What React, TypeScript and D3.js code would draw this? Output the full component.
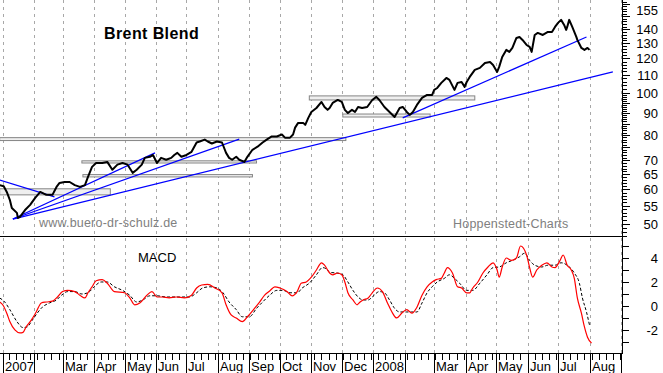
import React, { useEffect, useRef } from "react";
import * as d3 from "d3";

const W = 663;
const H = 373;

// Brent closes
const priceDates = [
  "2006-12-29", "2007-01-02", "2007-01-05", "2007-01-08", "2007-01-10", "2007-01-15", "2007-01-16", "2007-01-18",
  "2007-01-23", "2007-01-28", "2007-02-02", "2007-02-07", "2007-02-13", "2007-02-19", "2007-02-23", "2007-02-26",
  "2007-03-03", "2007-03-08", "2007-03-13", "2007-03-18", "2007-03-23", "2007-03-26", "2007-03-30", "2007-04-03",
  "2007-04-09", "2007-04-14", "2007-04-19", "2007-04-24", "2007-04-29", "2007-05-04", "2007-05-09", "2007-05-13",
  "2007-05-18", "2007-05-21", "2007-05-26", "2007-05-29", "2007-06-02", "2007-06-06", "2007-06-11", "2007-06-16",
  "2007-06-19", "2007-06-22", "2007-06-26", "2007-07-01", "2007-07-06", "2007-07-11", "2007-07-14", "2007-07-19",
  "2007-07-22", "2007-07-26", "2007-07-31", "2007-08-05", "2007-08-09", "2007-08-12", "2007-08-15", "2007-08-19",
  "2007-08-22", "2007-08-27", "2007-08-30", "2007-09-04", "2007-09-09", "2007-09-14", "2007-09-18", "2007-09-23",
  "2007-09-28", "2007-10-03", "2007-10-06", "2007-10-11", "2007-10-14", "2007-10-16", "2007-10-19", "2007-10-24",
  "2007-10-26", "2007-10-29", "2007-11-01", "2007-11-06", "2007-11-11", "2007-11-14", "2007-11-17", "2007-11-19",
  "2007-11-22", "2007-11-27", "2007-12-01", "2007-12-04", "2007-12-07", "2007-12-11", "2007-12-14", "2007-12-17",
  "2007-12-21", "2007-12-26", "2007-12-31", "2008-01-04", "2008-01-07", "2008-01-12", "2008-01-17", "2008-01-22",
  "2008-01-27", "2008-01-30", "2008-02-03", "2008-02-06", "2008-02-09", "2008-02-13", "2008-02-18", "2008-02-23",
  "2008-02-28", "2008-03-01", "2008-03-04", "2008-03-08", "2008-03-13", "2008-03-16", "2008-03-21", "2008-03-24",
  "2008-03-28", "2008-03-31", "2008-04-02", "2008-04-05", "2008-04-10", "2008-04-15", "2008-04-20", "2008-04-25",
  "2008-04-28", "2008-05-02", "2008-05-04", "2008-05-07", "2008-05-11", "2008-05-14", "2008-05-17", "2008-05-21",
  "2008-05-24", "2008-05-27", "2008-05-31", "2008-06-03", "2008-06-05", "2008-06-08", "2008-06-11", "2008-06-16",
  "2008-06-21", "2008-06-25", "2008-06-28", "2008-07-01", "2008-07-04", "2008-07-07", "2008-07-09", "2008-07-10",
  "2008-07-12", "2008-07-15", "2008-07-19", "2008-07-20", "2008-07-24", "2008-07-27", "2008-07-30", "2008-08-01",
];
const priceValues = [
  61.4, 61.0, 59.2, 56.8, 54.4, 53.0, 51.6, 51.9,
  53.8, 55.3, 57.4, 59.2, 58.3, 58.3, 60.8, 62.1,
  62.4, 62.4, 61.4, 60.8, 61.4, 64.1, 67.6, 69.0,
  69.0, 69.4, 66.6, 68.4, 69.0, 68.4, 65.5, 66.6,
  68.4, 70.9, 71.3, 72.0, 69.0, 70.9, 70.2, 70.9,
  72.0, 72.8, 71.3, 72.0, 73.2, 76.9, 77.3, 78.1,
  77.3, 76.5, 77.3, 76.9, 72.8, 70.9, 70.2, 71.3,
  70.2, 69.4, 71.3, 74.0, 75.2, 76.9, 78.1, 79.4,
  79.4, 80.2, 78.9, 78.9, 80.2, 83.2, 85.3, 85.3,
  84.4, 87.6, 90.4, 92.3, 95.3, 92.8, 91.4, 92.3,
  94.8, 96.3, 95.3, 91.4, 89.9, 91.4, 90.4, 92.8,
  92.3, 92.8, 96.3, 97.9, 96.3, 92.8, 90.4, 88.0,
  92.3, 92.8, 90.4, 89.0, 90.4, 93.8, 97.4, 98.9,
  98.9, 101.6, 102.6, 105.4, 108.2, 107.1, 101.6, 105.4,
  105.9, 103.2, 105.9, 108.8, 112.9, 114.1, 117.1, 117.7,
  115.9, 111.7, 114.7, 120.9, 125.5, 124.2, 126.8, 133.7,
  134.4, 132.3, 128.8, 127.5, 124.2, 135.8, 137.3, 135.8,
  138.0, 138.0, 141.7, 144.8, 147.1, 143.2, 139.5, 141.7,
  147.1, 141.7, 134.4, 132.3, 126.8, 125.5, 126.8, 125.5,
];

// MACD line (red)
const macdDates = [
  "2006-12-29", "2007-01-01", "2007-01-05", "2007-01-08", "2007-01-13", "2007-01-18", "2007-01-21", "2007-01-24",
  "2007-01-29", "2007-02-03", "2007-02-08", "2007-02-13", "2007-02-19", "2007-02-24", "2007-03-01", "2007-03-06",
  "2007-03-13", "2007-03-18", "2007-03-23", "2007-03-26", "2007-03-30", "2007-04-03", "2007-04-09", "2007-04-14",
  "2007-04-21", "2007-05-01", "2007-05-06", "2007-05-11", "2007-05-16", "2007-05-23", "2007-05-28", "2007-06-02",
  "2007-06-07", "2007-06-14", "2007-06-21", "2007-06-29", "2007-07-06", "2007-07-11", "2007-07-16", "2007-07-22",
  "2007-07-29", "2007-08-05", "2007-08-09", "2007-08-14", "2007-08-19", "2007-08-25", "2007-08-30", "2007-09-06",
  "2007-09-11", "2007-09-16", "2007-09-21", "2007-09-26", "2007-10-01", "2007-10-08", "2007-10-13", "2007-10-18",
  "2007-10-22", "2007-10-27", "2007-11-01", "2007-11-06", "2007-11-11", "2007-11-14", "2007-11-19", "2007-11-22",
  "2007-11-27", "2007-12-01", "2007-12-04", "2007-12-07", "2007-12-12", "2007-12-16", "2007-12-19", "2007-12-22",
  "2007-12-27", "2007-12-31", "2008-01-05", "2008-01-10", "2008-01-15", "2008-01-20", "2008-01-24", "2008-01-29",
  "2008-02-03", "2008-02-08", "2008-02-13", "2008-02-18", "2008-02-23", "2008-02-28", "2008-03-03", "2008-03-08",
  "2008-03-11", "2008-03-14", "2008-03-19", "2008-03-24", "2008-03-28", "2008-04-02", "2008-04-05", "2008-04-08",
  "2008-04-13", "2008-04-18", "2008-04-23", "2008-04-28", "2008-05-02", "2008-05-04", "2008-05-07", "2008-05-11",
  "2008-05-16", "2008-05-21", "2008-05-25", "2008-05-31", "2008-06-03", "2008-06-06", "2008-06-10", "2008-06-15",
  "2008-06-20", "2008-06-25", "2008-06-28", "2008-07-03", "2008-07-06", "2008-07-10", "2008-07-14", "2008-07-17",
  "2008-07-20", "2008-07-24", "2008-07-27", "2008-07-30", "2008-08-03",
];
const macdValues = [
  0.33, 0.1, -0.6, -1.3, -2.0, -2.25, -2.2, -1.75,
  -1.2, -0.5, 0.25, 0.33, 0.4, 0.75, 1.2, 1.3,
  1.2, 0.9, 0.67, 1.1, 1.6, 2.1, 2.2, 1.9,
  1.2, 1.1, 0.7, 0.1, 0.25, 0.9, 1.2, 0.75,
  0.75, 0.67, 0.75, 0.67, 0.9, 1.5, 1.75, 1.8,
  1.5, 1.1, 0.1, -0.75, -1.0, -1.3, -0.9, -0.2,
  0.33, 0.9, 1.25, 1.6, 1.5, 1.2, 0.85, 1.2,
  1.9, 2.0, 2.4, 3.0, 3.6, 3.4, 2.75, 2.6,
  2.75, 2.6, 2.0, 1.1, 0.5, 0.1, 0.33, 0.5,
  0.67, 1.1, 1.5, 1.2, 0.25, -0.6, -1.0, -0.6,
  -0.3, -0.6, -0.1, 0.9, 1.6, 2.0, 2.2, 2.3,
  2.75, 3.2, 2.75, 1.6, 1.5, 1.1, 1.1, 1.5,
  2.0, 2.75, 3.25, 3.6, 3.0, 2.4, 3.25, 4.0,
  3.8, 4.0, 5.0, 4.25, 3.2, 2.4, 3.0, 3.4,
  3.6, 3.25, 3.2, 3.8, 4.25, 3.4, 3.0, 2.3,
  0.67, -0.6, -1.75, -2.6, -3.1,
];

// signal line (black dashed)
const signalDates = [
  "2006-12-29", "2007-01-03", "2007-01-08", "2007-01-15", "2007-01-21", "2007-01-25", "2007-01-30", "2007-02-04",
  "2007-02-09", "2007-02-16", "2007-02-23", "2007-02-28", "2007-03-06", "2007-03-13", "2007-03-20", "2007-03-26",
  "2007-04-01", "2007-04-08", "2007-04-14", "2007-04-21", "2007-04-29", "2007-05-06", "2007-05-13", "2007-05-19",
  "2007-05-26", "2007-06-02", "2007-06-11", "2007-06-24", "2007-07-04", "2007-07-11", "2007-07-17", "2007-07-24",
  "2007-07-31", "2007-08-06", "2007-08-12", "2007-08-19", "2007-08-25", "2007-09-01", "2007-09-08", "2007-09-14",
  "2007-09-21", "2007-09-28", "2007-10-04", "2007-10-11", "2007-10-18", "2007-10-23", "2007-10-30", "2007-11-06",
  "2007-11-12", "2007-11-17", "2007-11-19", "2007-11-26", "2007-12-02", "2007-12-07", "2007-12-12", "2007-12-17",
  "2007-12-22", "2007-12-27", "2007-12-31", "2008-01-07", "2008-01-12", "2008-01-17", "2008-01-22", "2008-01-27",
  "2008-02-03", "2008-02-08", "2008-02-13", "2008-02-18", "2008-02-23", "2008-02-28", "2008-03-04", "2008-03-11",
  "2008-03-16", "2008-03-21", "2008-03-26", "2008-04-02", "2008-04-08", "2008-04-15", "2008-04-22", "2008-04-28",
  "2008-05-04", "2008-05-11", "2008-05-17", "2008-05-24", "2008-05-29", "2008-06-03", "2008-06-08", "2008-06-15",
  "2008-06-21", "2008-06-28", "2008-07-04", "2008-07-10", "2008-07-17", "2008-07-22", "2008-07-25", "2008-07-29",
  "2008-08-01",
];
const signalValues = [
  0.67, 0.33, -0.3, -1.3, -1.8, -1.75, -1.2, -0.6,
  -0.1, 0.25, 0.5, 0.9, 1.2, 1.2, 1.0, 1.1,
  1.6, 2.0, 2.0, 1.6, 1.3, 0.9, 0.33, 0.5,
  0.85, 0.85, 0.75, 0.75, 0.75, 1.1, 1.5, 1.6,
  1.5, 1.1, 0.33, -0.3, -0.9, -0.9, -0.2, 0.33,
  0.9, 1.3, 1.3, 1.1, 1.1, 1.5, 1.9, 2.6,
  3.2, 3.0, 2.8, 2.75, 2.6, 2.0, 1.3, 0.75,
  0.5, 0.5, 0.75, 1.2, 1.1, 0.5, -0.2, -0.5,
  -0.5, -0.5, -0.5, 0.25, 1.1, 1.6, 2.0, 2.3,
  2.6, 2.3, 1.9, 1.3, 1.3, 1.9, 2.6, 3.2,
  3.25, 3.6, 3.8, 4.1, 4.4, 3.8, 3.4, 3.25,
  3.4, 3.4, 3.6, 3.4, 2.75, 1.9, 0.67, -0.5,
  -1.6,
];

// trend lines: [from date, from value, to date, to value]
const trendLines: [string, number, string, number][] = [
  ["2007-01-11", 51.3, "2008-08-24", 111.7],
  ["2007-01-11", 51.3, "2007-08-22", 78.3],
  ["2007-01-11", 51.3, "2007-05-31", 72.8],
  ["2006-12-29", 63.1, "2007-02-21", 57.7],
  ["2008-01-30", 87.6, "2008-07-29", 134.4],
];

// support / resistance boxes: [from, to, low, high]
const zones: [string, string, number, number][] = [
  ["2006-12-29", "2007-12-05", 77.7, 78.9],
  ["2007-03-20", "2007-09-08", 69.0, 69.8],
  ["2007-03-21", "2007-09-04", 64.1, 64.9],
  ["2006-12-29", "2007-04-17", 58.3, 60.2],
  ["2007-10-30", "2008-04-10", 96.3, 98.4],
  ["2007-12-02", "2008-02-26", 88.0, 89.4],
];

const priceLabels = [155, 140, 130, 120, 110, 100, 90, 80, 70, 65, 60, 55, 50];
const macdLabels = [4, 2, 0, -2];

const FONT = "'Liberation Sans', Arial, sans-serif";

export default function App() {
  const svgRef = useRef<SVGSVGElement>(null);

  useEffect(() => {
    const svg = d3.select(svgRef.current);
    svg.selectAll("*").remove();
    const parse = d3.utcParse("%Y-%m-%d");

    const start = parse("2007-01-01")!;
    const end = parse("2008-09-01")!;
    const axisX = 622;
    const sepY = 236.5;
    const baseY = 353.5;

    const x = d3.scaleUtc().domain([start, end]).range([2.7, 621]);
    const y = d3.scaleLog().domain([46.9, 163.4]).range([236, 0]);
    const ym = d3.scaleLinear().domain([-3.92, 5.75]).range([353, 237]);

    svg.append("rect").attr("width", W).attr("height", H).attr("fill", "#fff");

    // month grid
    const months = d3.utcMonths(start, d3.utcDay.offset(end, 1));
    svg
      .append("g")
      .selectAll("line")
      .data(months)
      .join("line")
      .attr("x1", (d) => Math.round(x(d)) + 0.5)
      .attr("x2", (d) => Math.round(x(d)) + 0.5)
      .attr("y1", 0)
      .attr("y2", baseY)
      .attr("stroke", "#a8a8a8")
      .attr("stroke-dasharray", "3,4");

    // boxes
    svg
      .append("g")
      .selectAll("rect")
      .data(zones)
      .join("rect")
      .attr("x", (d) => x(parse(d[0])!))
      .attr("y", (d) => y(d[3]))
      .attr("width", (d) => x(parse(d[1])!) - x(parse(d[0])!))
      .attr("height", (d) => Math.max(2, y(d[2]) - y(d[3])))
      .attr("fill", "#efefef")
      .attr("stroke", "#858585")
      .attr("stroke-width", 1);

    // trend lines
    svg
      .append("g")
      .selectAll("line")
      .data(trendLines)
      .join("line")
      .attr("x1", (d) => x(parse(d[0])!))
      .attr("y1", (d) => y(d[1]))
      .attr("x2", (d) => x(parse(d[2])!))
      .attr("y2", (d) => y(d[3]))
      .attr("stroke", "#0000ff")
      .attr("stroke-width", 1.2);

    // price
    const priceLine = d3
      .line<number>()
      .x((_, i) => x(parse(priceDates[i])!))
      .y((d) => y(d));
    svg
      .append("path")
      .attr("d", priceLine(priceValues))
      .attr("fill", "none")
      .attr("stroke", "#000")
      .attr("stroke-width", 2)
      .attr("stroke-linejoin", "round");

    // MACD panel
    const sigLine = d3
      .line<number>()
      .x((_, i) => x(parse(signalDates[i])!))
      .y((d) => ym(d))
      .curve(d3.curveMonotoneX);
    svg
      .append("path")
      .attr("d", sigLine(signalValues))
      .attr("fill", "none")
      .attr("stroke", "#000")
      .attr("stroke-width", 1)
      .attr("stroke-dasharray", "3,2");

    const macdLine = d3
      .line<number>()
      .x((_, i) => x(parse(macdDates[i])!))
      .y((d) => ym(d))
      .curve(d3.curveMonotoneX);
    svg
      .append("path")
      .attr("d", macdLine(macdValues))
      .attr("fill", "none")
      .attr("stroke", "#ff0000")
      .attr("stroke-width", 1.2);

    // texts
    svg
      .append("text")
      .attr("x", 104)
      .attr("y", 39)
      .style("font", `bold 16px ${FONT}`)
      .style("letter-spacing", "0.4px")
      .text("Brent Blend");
    svg
      .append("text")
      .attr("x", 39)
      .attr("y", 227)
      .attr("fill", "#808080")
      .style("font", `12.5px ${FONT}`)
      .style("letter-spacing", "0.2px")
      .text("www.buero-dr-schulz.de");
    svg
      .append("text")
      .attr("x", 453)
      .attr("y", 228)
      .attr("fill", "#808080")
      .style("font", `12.5px ${FONT}`)
      .style("letter-spacing", "0.2px")
      .text("Hoppenstedt-Charts");
    svg
      .append("text")
      .attr("x", 138)
      .attr("y", 262)
      .style("font", `13px ${FONT}`)
      .text("MACD");

    // frame lines
    const frame = svg.append("g").attr("stroke", "#000").attr("shape-rendering", "crispEdges");
    frame.append("line").attr("x1", 0).attr("x2", axisX).attr("y1", sepY).attr("y2", sepY);
    frame.append("line").attr("x1", 0).attr("x2", axisX).attr("y1", baseY).attr("y2", baseY);
    frame.append("line").attr("x1", axisX + 0.5).attr("x2", axisX + 0.5).attr("y1", 0).attr("y2", baseY);

    // price axis ticks
    const minor = d3.range(47, 100, 1).concat(d3.range(100, 164, 2));
    frame
      .selectAll("line.pt")
      .data(minor)
      .join("line")
      .attr("class", "pt")
      .attr("x1", axisX)
      .attr("x2", (d) => axisX + ((d < 100 ? d % 5 === 0 : d % 10 === 0) ? 8 : 5))
      .attr("y1", (d) => Math.round(y(d)) + 0.5)
      .attr("y2", (d) => Math.round(y(d)) + 0.5);

    svg
      .append("g")
      .selectAll("text")
      .data(priceLabels)
      .join("text")
      .attr("x", 658)
      .attr("y", (d) => y(d) + 5)
      .attr("text-anchor", "end")
      .style("font", `13px ${FONT}`)
      .text((d) => d);

    // macd axis ticks
    frame
      .selectAll("line.mt")
      .data(d3.range(-3, 6, 1))
      .join("line")
      .attr("class", "mt")
      .attr("x1", axisX)
      .attr("x2", axisX + 7)
      .attr("y1", (d) => Math.round(ym(d)) + 0.5)
      .attr("y2", (d) => Math.round(ym(d)) + 0.5);

    svg
      .append("g")
      .selectAll("text")
      .data(macdLabels)
      .join("text")
      .attr("x", 658)
      .attr("y", (d) => ym(d) + 5)
      .attr("text-anchor", "end")
      .style("font", `13px ${FONT}`)
      .text((d) => d);

    // time axis
    frame
      .selectAll("line.wk")
      .data(d3.utcWeeks(start, end))
      .join("line")
      .attr("class", "wk")
      .attr("x1", (d) => Math.round(x(d)) + 0.5)
      .attr("x2", (d) => Math.round(x(d)) + 0.5)
      .attr("y1", baseY)
      .attr("y2", baseY + 6);
    frame
      .selectAll("line.mo")
      .data(months)
      .join("line")
      .attr("class", "mo")
      .attr("x1", (d) => Math.round(x(d)) + 0.5)
      .attr("x2", (d) => Math.round(x(d)) + 0.5)
      .attr("y1", baseY)
      .attr("y2", H);

    const fmt = d3.utcFormat("%b");
    svg
      .append("g")
      .selectAll("text")
      .data(months.filter((d) => d < end))
      .join("text")
      .attr("x", (d) => Math.round(x(d)) + 2)
      .attr("y", 371)
      .style("font", `13px ${FONT}`)
      .text((d) => (d.getUTCMonth() === 0 ? String(d.getUTCFullYear()) : d.getUTCMonth() === 1 ? "" : fmt(d)));
  }, []);

  return (
    <div style={{ position: "absolute", left: 0, top: 0, width: W, height: H, background: "#fff" }}>
      <svg ref={svgRef} width={W} height={H} style={{ display: "block" }} />
    </div>
  );
}
